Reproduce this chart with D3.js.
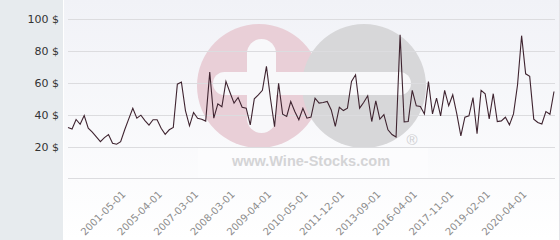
<!DOCTYPE html>
<html>
<head>
<meta charset="UTF-8">
<title>Wine price</title>
<style>
    body { margin: 0; }
    svg { display: block; }
</style>
</head>
<body>
<svg id="chart"></svg>
<script src="https://cdn.jsdelivr.net/npm/d3@7/dist/d3.min.js"></script>
<script>
const width = 560;
const height = 240;

// price per bottle, one value per listing
const prices = [
    32, 31, 37, 34, 39.5, 31.5, 29, 26, 23, 25.6,
    27.5, 22, 21.4, 23, 30.5, 37.4, 44, 37.8, 39.7, 36.3,
    33.4, 36.8, 36.8, 31.5, 27.7, 30.5, 32, 59.2, 60.5, 42.6,
    33, 41.4, 37.8, 37.2, 36, 66.8, 37.8, 46.8, 45, 61,
    54, 47.3, 50.8, 44.7, 44.1, 33.6, 50, 52.5, 55.3, 70.4,
    50, 32.5, 59.8, 40.3, 38.9, 48.3, 42, 36.8, 44, 37.8,
    38.5, 50.4, 47.3, 47.7, 48.3, 43, 32.6, 44.7, 42.6, 44.1,
    60.9, 65.1, 44.1, 47.7, 51.9, 35.7, 48.7, 37.2, 40, 30.5,
    27.5, 26, 90.3, 35.5, 35.7, 55.3, 45.6, 45.2, 40.5, 60.9,
    40.5, 50.4, 39.3, 55.3, 45.6, 52.5, 40.5, 26.7, 38.4, 39.3,
    50.8, 28, 55.3, 53.2, 37.4, 53.2, 35.7, 36.1, 38.4, 33.6,
    40.5, 58.8, 89.7, 65.7, 64.1, 37.2, 35.1, 34.2, 42, 40.3,
    54.6
];

// which listings carry a date label
const tickIndex = [14, 23, 32, 41, 50, 59, 68, 77, 86, 95, 104, 113];
const tickLabels = [
    '2001-05-01', '2005-04-01', '2007-03-01', '2008-03-01',
    '2009-04-01', '2010-05-01', '2011-12-01', '2013-09-01',
    '2016-04-01', '2017-11-01', '2019-02-01', '2020-04-01'
];
const yTicks = [0, 20, 40, 60, 80, 100];

const svg = d3.select('#chart')
    .attr('width', width)
    .attr('height', height);

// backgrounds
const defs = svg.append('defs');
const grad = defs.append('linearGradient')
    .attr('id', 'plotbg')
    .attr('x1', 0).attr('y1', 0)
    .attr('x2', 0).attr('y2', 1);
grad.append('stop').attr('offset', '0%').attr('stop-color', '#f1f2f7');
grad.append('stop').attr('offset', '100%').attr('stop-color', '#ffffff');

svg.append('rect')
    .attr('x', 0).attr('y', 0)
    .attr('width', 63).attr('height', height)
    .attr('fill', '#e7ebee');
svg.append('rect')
    .attr('x', 64).attr('y', 0)
    .attr('width', width - 64).attr('height', height)
    .attr('fill', 'url(#plotbg)');
svg.append('line')
    .attr('x1', 559.5).attr('x2', 559.5)
    .attr('y1', 0).attr('y2', height)
    .attr('stroke', '#e4e4e8');

// watermark logo
const wm = svg.append('g').attr('class', 'watermark');
wm.append('circle').attr('cx', 259).attr('cy', 86).attr('r', 62).attr('fill', '#e9cfd7');
wm.append('circle').attr('cx', 364).attr('cy', 86).attr('r', 62).attr('fill', '#d7d7d9');
wm.append('rect')
    .attr('x', 213).attr('y', 72).attr('width', 198).attr('height', 23)
    .attr('rx', 11.5).attr('fill', '#f8f8fa');
wm.append('rect')
    .attr('x', 247).attr('y', 39).attr('width', 29).attr('height', 94)
    .attr('rx', 14.5).attr('fill', '#f8f8fa');
wm.append('rect')
    .attr('x', 198).attr('y', 148).attr('width', 230).attr('height', 30)
    .attr('fill', '#ffffff').attr('opacity', 0.4);
wm.append('text')
    .attr('x', 311).attr('y', 166)
    .attr('text-anchor', 'middle')
    .style('font-family', '"Liberation Sans", Arial, sans-serif')
    .style('font-weight', 'bold')
    .style('font-size', '14.5px')
    .attr('fill', '#d4d4d6')
    .text('www.Wine-Stocks.com');
wm.append('text')
    .attr('x', 412).attr('y', 145)
    .attr('text-anchor', 'middle')
    .style('font-family', '"Liberation Sans", Arial, sans-serif')
    .style('font-size', '15px')
    .attr('fill', '#cfcfd2')
    .text('®');

// scales
const x = d3.scaleLinear()
    .domain([0, prices.length - 1])
    .range([68, 554]);
const y = d3.scaleLinear()
    .domain([0, 100])
    .range([178.3, 19.3]);

// grid
svg.append('g')
    .attr('class', 'grid')
    .selectAll('line')
    .data(yTicks)
    .enter()
    .append('line')
    .attr('x1', 68)
    .attr('x2', 555)
    .attr('y1', d => Math.round(y(d)) + 0.5)
    .attr('y2', d => Math.round(y(d)) + 0.5)
    .attr('stroke', '#dcdcdf')
    .attr('stroke-width', 1);

// y axis labels
const yAxis = svg.append('g')
    .attr('transform', 'translate(59,0)')
    .call(d3.axisLeft(y)
        .tickValues(yTicks.filter(d => d > 0))
        .tickFormat(d => d + ' $')
        .tickSize(0)
        .tickPadding(0));
yAxis.select('.domain').remove();
yAxis.selectAll('text')
    .style('font-family', '"DejaVu Sans", sans-serif')
    .style('font-size', '11px')
    .attr('fill', '#333');

// x axis labels
const xAxis = svg.append('g')
    .attr('transform', 'translate(0,178)')
    .call(d3.axisBottom(x)
        .tickValues(tickIndex)
        .tickFormat((d, i) => tickLabels[i])
        .tickSize(0));
xAxis.select('.domain').remove();
xAxis.selectAll('text')
    .attr('x', 0)
    .attr('y', 0)
    .attr('dy', 0)
    .attr('transform', 'translate(1,17) rotate(-45)')
    .style('text-anchor', 'end')
    .style('font-family', '"DejaVu Sans", sans-serif')
    .style('font-size', '10px')
    .attr('fill', '#8c8c8c');

// price line
const line = d3.line()
    .x((d, i) => x(i))
    .y(d => y(d));

svg.append('path')
    .datum(prices)
    .attr('d', line)
    .attr('fill', 'none')
    .attr('stroke', '#3f2430')
    .attr('stroke-width', 1.1)
    .attr('stroke-linejoin', 'miter');
</script>
</body>
</html>
